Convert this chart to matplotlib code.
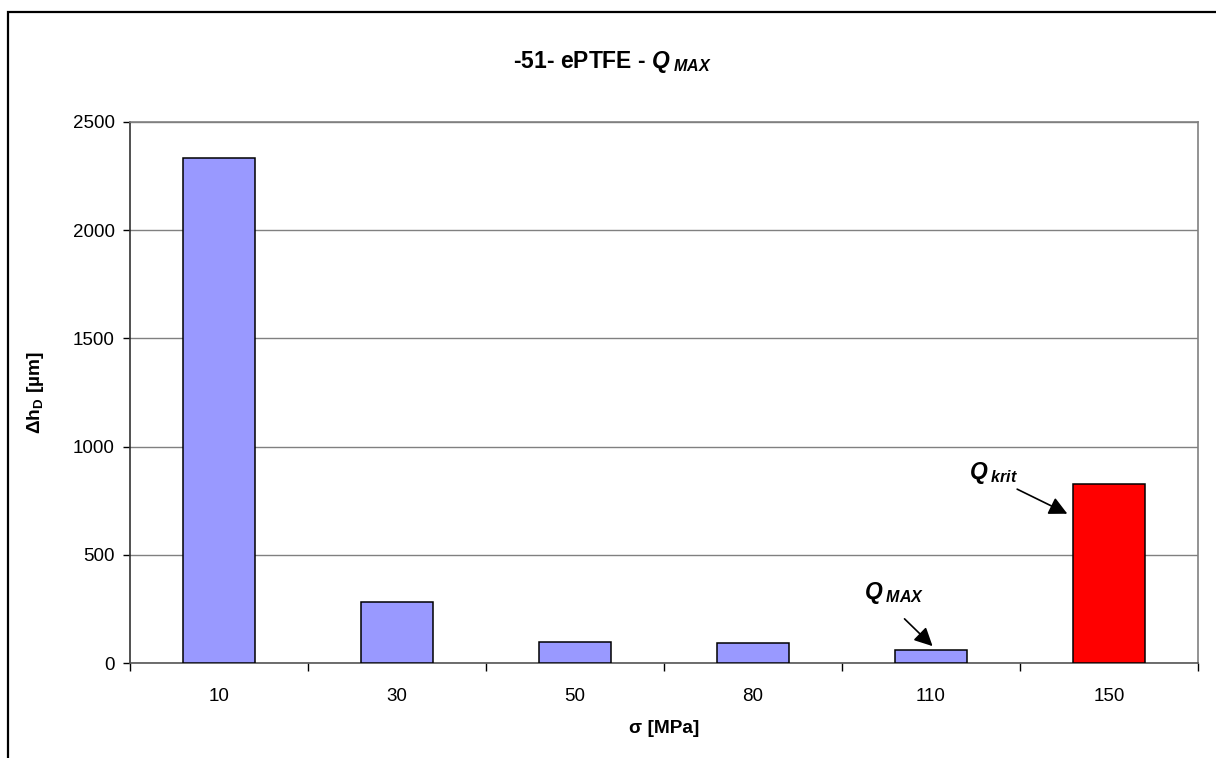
import matplotlib.pyplot as plt
import numpy as np
from matplotlib.patches import Rectangle

plt.rcParams['font.family'] = ['Liberation Sans', 'DejaVu Sans']
plt.rcParams['mathtext.fontset'] = 'custom'
plt.rcParams['mathtext.rm'] = 'Liberation Sans'
plt.rcParams['mathtext.it'] = 'Liberation Sans:italic'
plt.rcParams['mathtext.bf'] = 'Liberation Sans:bold'
plt.rcParams['mathtext.bfit'] = 'Liberation Sans:bold:italic'

# data
stress = ["10", "30", "50", "80", "110", "150"]
dh = [2335, 280, 96, 91, 60, 827]
bar_colors = ["#9999FF", "#9999FF", "#9999FF", "#9999FF", "#9999FF", "#FF0000"]

fig = plt.figure(figsize=(12.16, 7.58), dpi=100)
ax = fig.add_axes([130 / 1216, 1 - 663 / 758, 1068 / 1216, 541 / 758])

x = np.arange(len(stress))
ax.bar(x, dh, width=0.4, color=bar_colors, edgecolor="black", linewidth=1.1, zorder=3)

ax.set_xlim(-0.5, len(stress) - 0.5)
ax.set_ylim(0, 2500)
ax.set_yticks(np.arange(0, 2501, 500))
ax.set_xticks(x)
ax.set_xticklabels(stress)
ax.set_xticks(np.arange(-0.5, len(stress), 1), minor=True)
ax.tick_params(axis="x", which="major", length=0, pad=18, labelsize=13.5)
ax.tick_params(axis="x", which="minor", length=6, width=1, direction="out")
ax.tick_params(axis="y", length=5, width=1, direction="out", pad=6, labelsize=13.5)

ax.grid(axis="y", color="#808080", linewidth=1, zorder=0)
for s in ["top", "right"]:
    ax.spines[s].set_color("#808080")
    ax.spines[s].set_linewidth(1.2)
ax.spines["left"].set_color("#333333")
ax.spines["bottom"].set_color("#555555")
ax.spines["left"].set_linewidth(1.2)
ax.spines["bottom"].set_linewidth(1.2)

ax.set_xlabel(r"σ [MPa]", fontsize=13.8, fontweight="bold", labelpad=11)
ax.set_ylabel(r"Δh$_\mathbf{D}$ [µm]", fontsize=13.8, fontweight="bold", labelpad=19)

fig.text(612 / 1216, 1 - 62 / 758, r"-51- ePTFE - $\mathbfit{Q}_{\mathbfit{\;MAX}}$",
         ha="center", va="center", fontsize=16.5, fontweight="bold")

arrow = dict(arrowstyle="-|>,head_length=1.1,head_width=0.55", color="black", lw=1.2)
ax.text(3.79, 265, r"$\mathbfit{Q}_{\mathbfit{\;MAX}}$", ha="center", va="bottom", fontsize=16.5)
ax.annotate("", xy=(4.02, 69), xytext=(3.84, 213), arrowprops=arrow)
ax.text(4.35, 818, r"$\mathbfit{Q}_{\mathbfit{\;krit}}$", ha="center", va="bottom", fontsize=16.5)
ax.annotate("", xy=(4.78, 684), xytext=(4.47, 809), arrowprops=arrow)

# outer chart frame (only left and top edges fall inside the image)
fig.patches.append(Rectangle((8 / 1216, -0.1), 1.2, 1.1 - 12 / 758, transform=fig.transFigure,
                             fill=False, edgecolor="black", linewidth=1.6))

fig.savefig("out.png", dpi=100)
